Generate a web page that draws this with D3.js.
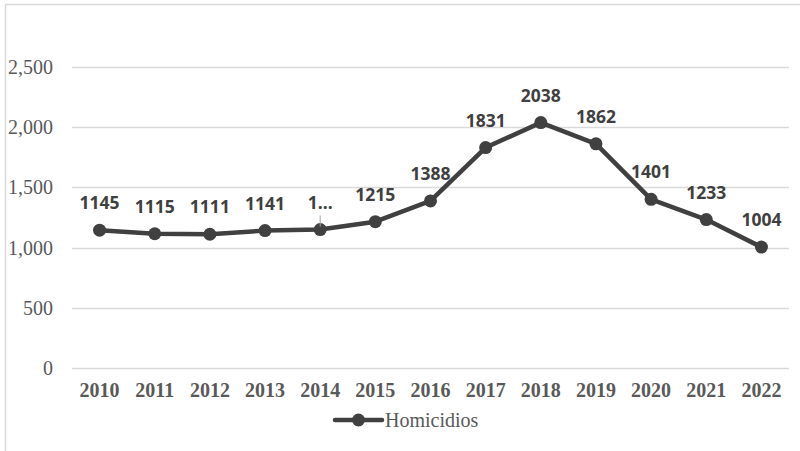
<!DOCTYPE html>
<html>
<head>
<meta charset="utf-8">
<script src="https://cdn.jsdelivr.net/npm/d3@7"></script>
<style>
  body { margin: 0; background: #fff; }
  svg { display: block; }
</style>
</head>
<body>
<div id="chart"></div>
<script>
const years = ["2010", "2011", "2012", "2013", "2014", "2015", "2016", "2017", "2018", "2019", "2020", "2021", "2022"];
const homicidios = [1145, 1115, 1111, 1141, 1150, 1215, 1388, 1831, 2038, 1862, 1401, 1233, 1004];
const pointLabels = ["1145", "1115", "1111", "1141", "1…", "1215", "1388", "1831", "2038", "1862", "1401", "1233", "1004"];
const yTicks = [0, 500, 1000, 1500, 2000, 2500];
const seriesName = "Homicidios";

const width = 800, height = 451;
const margin = { top: 67, right: 11, bottom: 83, left: 72 };
const lineColor = "#404040";

const svg = d3.select("#chart").append("svg").attr("width", width).attr("height", height);

// outer frame
svg.append("rect")
  .attr("x", 5.5).attr("y", 4.5)
  .attr("width", width + 10).attr("height", height + 10)
  .attr("fill", "none").attr("stroke", "#d9d9d9").attr("stroke-width", 1.5);

const x = d3.scaleBand().domain(years).range([margin.left, width - margin.right]);
const y = d3.scaleLinear().domain([0, 2500]).range([height - margin.bottom, margin.top]);

// grid
svg.append("g")
  .selectAll("line")
  .data(yTicks)
  .join("line")
  .attr("x1", margin.left).attr("x2", width - margin.right)
  .attr("y1", (d) => Math.round(y(d)) + 0.5).attr("y2", (d) => Math.round(y(d)) + 0.5)
  .attr("stroke", "#d9d9d9").attr("stroke-width", 1.5);

// y tick labels
svg.append("g")
  .selectAll("text")
  .data(yTicks)
  .join("text")
  .attr("x", 53).attr("y", (d) => y(d))
  .attr("dy", "0.35em")
  .attr("text-anchor", "end")
  .attr("font-family", "Liberation Serif, Times New Roman, serif")
  .attr("font-size", 20)
  .attr("fill", "#595959")
  .text((d) => d3.format(",")(d));

// x tick labels
svg.append("g")
  .selectAll("text")
  .data(years)
  .join("text")
  .attr("x", (d) => x(d) + x.bandwidth() / 2)
  .attr("y", y(0) + 29)
  .attr("text-anchor", "middle")
  .attr("font-family", "Liberation Serif, Times New Roman, serif")
  .attr("font-weight", "bold")
  .attr("font-size", 20)
  .attr("fill", "#595959")
  .text((d) => d);

const pts = years.map((yr, i) => ({ year: yr, value: homicidios[i], label: pointLabels[i] }));
const cx = (d) => x(d.year) + x.bandwidth() / 2;

svg.append("path")
  .datum(pts)
  .attr("fill", "none")
  .attr("stroke", lineColor)
  .attr("stroke-width", 4.5)
  .attr("stroke-linejoin", "round")
  .attr("d", d3.line().x(cx).y((d) => y(d.value)));

svg.append("g")
  .selectAll("circle")
  .data(pts)
  .join("circle")
  .attr("cx", cx).attr("cy", (d) => y(d.value))
  .attr("r", 6.5)
  .attr("fill", lineColor);

// leader line for the truncated label
svg.append("g")
  .selectAll("line")
  .data(pts.filter((d) => d.label.endsWith("…")))
  .join("line")
  .attr("x1", cx).attr("x2", cx)
  .attr("y1", (d) => y(d.value) - 3).attr("y2", (d) => y(d.value) - 14)
  .attr("stroke", "#a6a6a6").attr("stroke-width", 1);

svg.append("g")
  .selectAll("text")
  .data(pts)
  .join("text")
  .attr("x", cx)
  .attr("y", (d) => y(d.value) - 21)
  .attr("text-anchor", "middle")
  .attr("font-family", "Open Sans, Liberation Sans, sans-serif")
  .attr("font-weight", "bold")
  .attr("font-size", 17.5)
  .attr("fill", lineColor)
  .text((d) => d.label);

// legend
const legend = svg.append("g").attr("transform", "translate(335,420)");
legend.append("line")
  .attr("x1", 0).attr("x2", 47)
  .attr("stroke", lineColor).attr("stroke-width", 4.5).attr("stroke-linecap", "round");
legend.append("circle").attr("cx", 23.5).attr("r", 6.5).attr("fill", lineColor);
legend.append("text")
  .attr("x", 50).attr("dy", "0.35em")
  .attr("font-family", "Liberation Serif, Times New Roman, serif")
  .attr("font-size", 20)
  .attr("fill", "#595959")
  .text(seriesName);
</script>
</body>
</html>
